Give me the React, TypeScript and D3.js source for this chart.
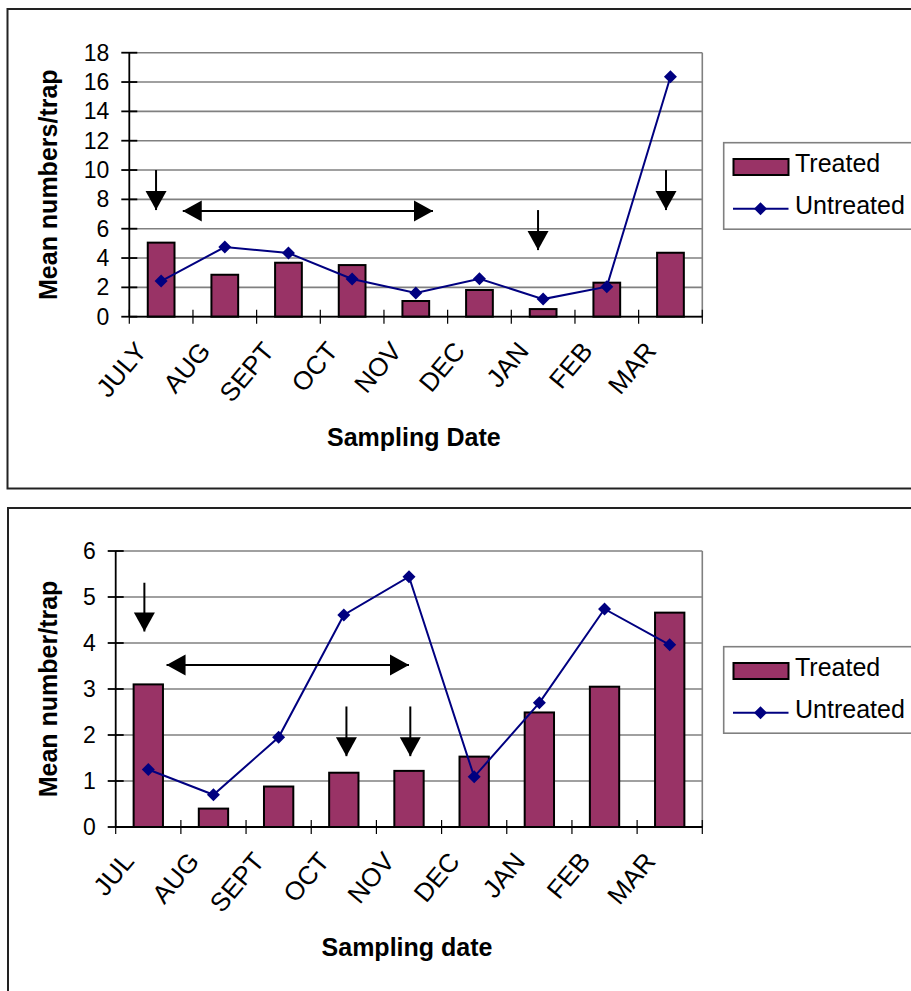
import React from "react";
import * as d3 from "d3";

// ---------- DATA ----------
const months1 = ["JULY", "AUG", "SEPT", "OCT", "NOV", "DEC", "JAN", "FEB", "MAR"];
const treated1 = [5.05, 2.86, 3.68, 3.52, 1.07, 1.82, 0.52, 2.32, 4.36];
const untreated1 = [2.43, 4.75, 4.34, 2.57, 1.61, 2.59, 1.2, 2.05, 16.36];
const yTicks1 = [0, 2, 4, 6, 8, 10, 12, 14, 16, 18];
// annotation arrows: x in category units (0..9), y in data units
const arrows1 = [
  { x1: 0.42, y1: 10, x2: 0.42, y2: 7.27, both: false },
  { x1: 0.84, y1: 7.2, x2: 4.77, y2: 7.2, both: true },
  { x1: 6.42, y1: 7.27, x2: 6.42, y2: 4.54, both: false },
  { x1: 8.43, y1: 10, x2: 8.43, y2: 7.27, both: false },
];

const months2 = ["JUL", "AUG", "SEPT", "OCT", "NOV", "DEC", "JAN", "FEB", "MAR"];
const treated2 = [3.1, 0.4, 0.88, 1.18, 1.22, 1.53, 2.49, 3.05, 4.66];
const untreated2 = [1.25, 0.7, 1.95, 4.61, 5.44, 1.09, 2.7, 4.74, 3.96];
const yTicks2 = [0, 1, 2, 3, 4, 5, 6];
const arrows2 = [
  { x1: 0.44, y1: 5.31, x2: 0.44, y2: 4.25, both: false },
  { x1: 0.78, y1: 3.52, x2: 4.5, y2: 3.52, both: true },
  { x1: 3.54, y1: 2.62, x2: 3.54, y2: 1.54, both: false },
  { x1: 4.52, y1: 2.62, x2: 4.52, y2: 1.54, both: false },
];

const seriesNames = ["Treated", "Untreated"];

// ---------- STYLE ----------
const FONT = "'Liberation Sans', Arial, sans-serif";
const BAR_FILL = "#993366";
const LINE_COLOR = "#000080";
const GRID = "#808080";

type Arrow = { x1: number; y1: number; x2: number; y2: number; both: boolean };

interface ChartProps {
  frame: { x: number; y: number; h: number };
  plot: { left: number; right: number; top: number; bottom: number };
  months: string[];
  treated: number[];
  untreated: number[];
  yTicks: number[];
  yMax: number;
  arrows: Arrow[];
  barFrac: number;
  yTitle: string;
  xTitle: string;
  legendTop: number;
}

function arrowHead(tipX: number, tipY: number, dx: number, dy: number) {
  const len = 19;
  const half = 10.5;
  const n = Math.hypot(dx, dy) || 1;
  const ux = dx / n;
  const uy = dy / n;
  const bx = tipX - ux * len;
  const by = tipY - uy * len;
  const px = -uy;
  const py = ux;
  return `M${tipX},${tipY}L${bx + px * half},${by + py * half}L${bx - px * half},${by - py * half}Z`;
}

function Chart(p: ChartProps) {
  const { plot } = p;
  const x = d3.scaleBand<string>().domain(p.months).range([plot.left, plot.right]).padding(0);
  const xu = d3.scaleLinear().domain([0, p.months.length]).range([plot.left, plot.right]);
  const y = d3.scaleLinear().domain([0, p.yMax]).range([plot.bottom, plot.top]);
  const bw = x.bandwidth() * p.barFrac;
  const line = d3
    .line<number>()
    .x((_, i) => (x(p.months[i]) as number) + x.bandwidth() / 2)
    .y((d) => y(d));
  const diamond = (cx: number, cy: number, r: number) =>
    `M${cx},${cy - r}L${cx + r},${cy}L${cx},${cy + r}L${cx - r},${cy}Z`;
  const boundaries = d3.range(p.months.length + 1).map((i) => xu(i));
  const lg = p.legendTop;
  const lgX = 723.7;

  return (
    <g>
      {/* outer frame */}
      <rect x={p.frame.x} y={p.frame.y} width={1000} height={p.frame.h} fill="white" stroke="#222" strokeWidth={2} />
      {/* gridlines */}
      {p.yTicks.map((t) => (
        <line key={"g" + t} x1={plot.left} x2={plot.right} y1={y(t)} y2={y(t)} stroke={GRID} strokeWidth={1.6} />
      ))}
      {/* plot right border */}
      <line x1={plot.right} x2={plot.right} y1={plot.top} y2={plot.bottom} stroke={GRID} strokeWidth={1.6} />
      {/* bars */}
      {p.treated.map((v, i) => {
        const cx = (x(p.months[i]) as number) + x.bandwidth() / 2;
        return (
          <rect key={"b" + i} x={cx - bw / 2} y={y(v)} width={bw} height={y(0) - y(v)} fill={BAR_FILL} stroke="black" strokeWidth={2} />
        );
      })}
      {/* y axis */}
      <line x1={plot.left} x2={plot.left} y1={plot.top} y2={plot.bottom} stroke="black" strokeWidth={1.8} />
      {p.yTicks.map((t) => (
        <g key={"yt" + t}>
          <line x1={plot.left - 8} x2={plot.left + 8} y1={y(t)} y2={y(t)} stroke="black" strokeWidth={1.8} />
          <text x={plot.left - 20} y={y(t)} textAnchor="end" dominantBaseline="central" fontFamily={FONT} fontSize={23}>
            {t}
          </text>
        </g>
      ))}
      {/* x axis */}
      <line x1={plot.left} x2={plot.right} y1={plot.bottom} y2={plot.bottom} stroke="black" strokeWidth={1.8} />
      {boundaries.map((bx, i) => (
        <line key={"xt" + i} x1={bx} x2={bx} y1={plot.bottom - 7} y2={plot.bottom + 7} stroke="black" strokeWidth={1.2} />
      ))}
      {p.months.map((m) => {
        const cx = (x(m) as number) + x.bandwidth() / 2;
        const ax = cx - 13;
        const ay = plot.bottom + 35;
        return (
          <text key={"xl" + m} x={ax} y={ay} transform={`rotate(-50 ${ax} ${ay})`} textAnchor="end" fontFamily={FONT} fontSize={26}>
            {m}
          </text>
        );
      })}
      {/* untreated line */}
      <path d={line(p.untreated) || ""} fill="none" stroke={LINE_COLOR} strokeWidth={2} />
      {p.untreated.map((v, i) => {
        const cx = (x(p.months[i]) as number) + x.bandwidth() / 2;
        return <path key={"m" + i} d={diamond(cx, y(v), 6.5)} fill={LINE_COLOR} />;
      })}
      {/* annotation arrows */}
      {p.arrows.map((a, i) => {
        const X1 = xu(a.x1), Y1 = y(a.y1), X2 = xu(a.x2), Y2 = y(a.y2);
        return (
          <g key={"a" + i}>
            <line x1={X1} y1={Y1} x2={X2} y2={Y2} stroke="black" strokeWidth={2} />
            <path d={arrowHead(X2, Y2, X2 - X1, Y2 - Y1)} fill="black" />
            {a.both && <path d={arrowHead(X1, Y1, X1 - X2, Y1 - Y2)} fill="black" />}
          </g>
        );
      })}
      {/* axis titles */}
      <text
        x={57}
        y={(plot.top + plot.bottom) / 2}
        transform={`rotate(-90 57 ${(plot.top + plot.bottom) / 2})`}
        textAnchor="middle"
        fontFamily={FONT}
        fontWeight="bold"
        fontSize={25}
      >
        {p.yTitle}
      </text>
      <text x={(plot.left + plot.right) / 2 - 2} y={plot.bottom + 129} textAnchor="middle" fontFamily={FONT} fontWeight="bold" fontSize={25}>
        {p.xTitle}
      </text>
      {/* legend */}
      <rect x={lgX} y={lg} width={220} height={86.5} fill="white" stroke={GRID} strokeWidth={1.6} />
      <rect x={733.5} y={lg + 16.3} width={55} height={16} fill={BAR_FILL} stroke="black" strokeWidth={2} />
      <text x={795} y={lg + 29.5} fontFamily={FONT} fontSize={25}>
        {seriesNames[0]}
      </text>
      <line x1={733} x2={788.5} y1={lg + 66} y2={lg + 66} stroke={LINE_COLOR} strokeWidth={2} />
      <path d={diamond(760.5, lg + 66, 6.5)} fill={LINE_COLOR} />
      <text x={795} y={lg + 71} fontFamily={FONT} fontSize={25}>
        {seriesNames[1]}
      </text>
    </g>
  );
}

export default function App() {
  return (
    <svg width={911} height={991} style={{ position: "absolute", left: 0, top: 0, background: "white" }}>
      <rect x={0} y={0} width={911} height={991} fill="white" />
      <Chart
        frame={{ x: 7.5, y: 9, h: 479.5 }}
        plot={{ left: 129.3, right: 702.3, top: 52.7, bottom: 316.7 }}
        months={months1}
        treated={treated1}
        untreated={untreated1}
        yTicks={yTicks1}
        yMax={18}
        arrows={arrows1}
        barFrac={0.42}
        yTitle="Mean numbers/trap"
        xTitle="Sampling Date"
        legendTop={142.7}
      />
      <Chart
        frame={{ x: 8, y: 508, h: 600 }}
        plot={{ left: 115.7, right: 702.3, top: 551, bottom: 827 }}
        months={months2}
        treated={treated2}
        untreated={untreated2}
        yTicks={yTicks2}
        yMax={6}
        arrows={arrows2}
        barFrac={0.45}
        yTitle="Mean number/trap"
        xTitle="Sampling date"
        legendTop={646.7}
      />
    </svg>
  );
}
